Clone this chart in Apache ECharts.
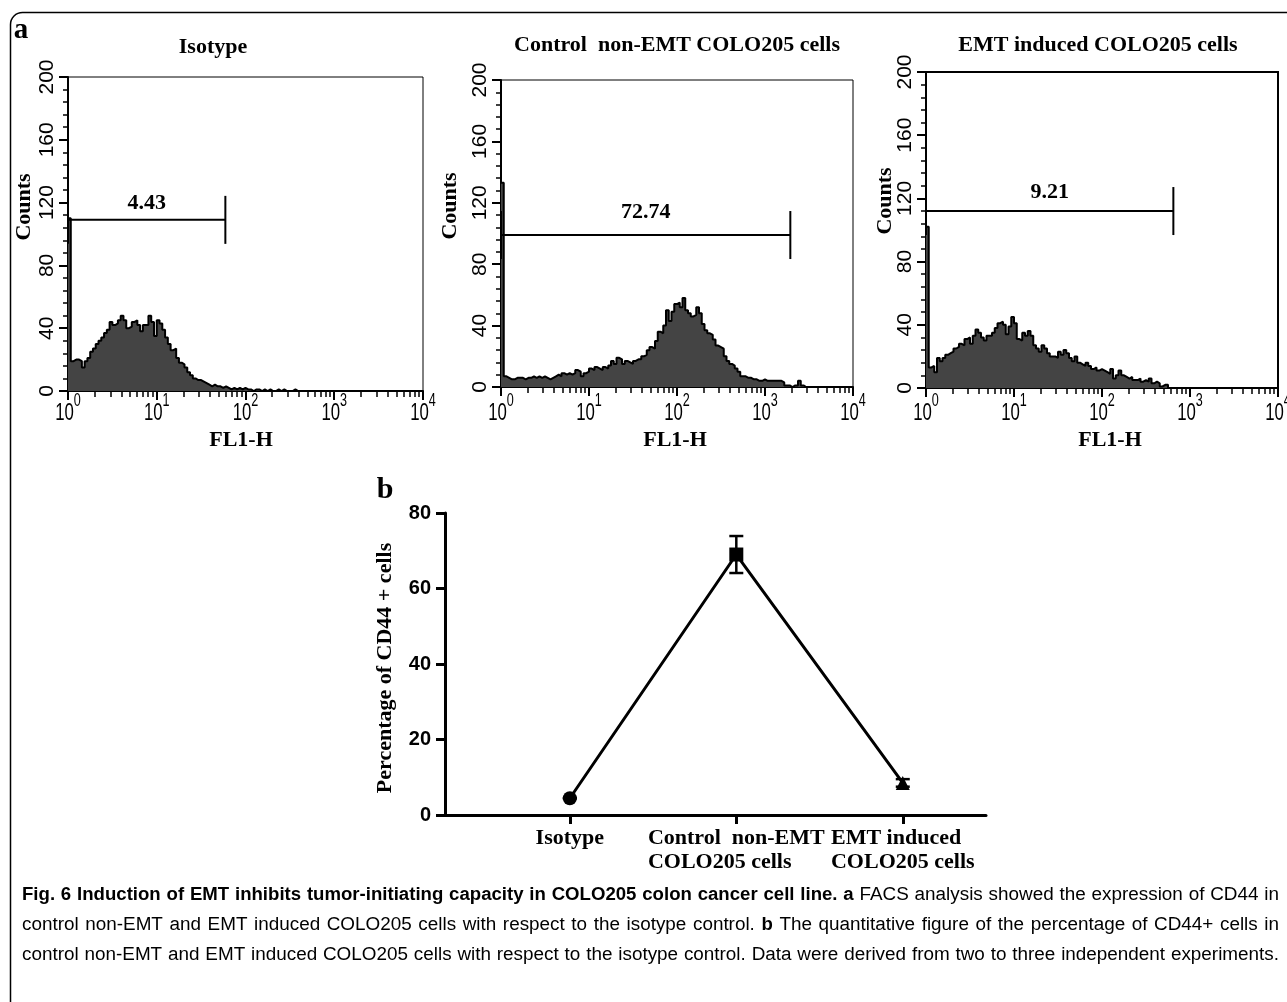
<!DOCTYPE html>
<html>
<head>
<meta charset="utf-8">
<script src="https://cdn.jsdelivr.net/npm/echarts@6/dist/echarts.min.js"></script>
<style>
  html, body { margin: 0; padding: 0; background: #fff; }
  #chart { width: 1287px; height: 1002px; }
</style>
</head>
<body>
<div id="chart"></div>
<script>
// ---- FACS histograms: counts per channel, 32 log channels per decade (10^0 .. 10^4) ----
const channelsPerDecade = 32;

const isotypeCounts = [
  110, 19, 20, 20, 19, 15, 19, 21, 25, 27, 30, 32, 34, 37, 39, 44,
  42, 43, 45, 48, 45, 40, 41, 44, 45, 42, 38, 42, 42, 48, 44, 35,
  45, 43, 39, 34, 30, 26, 27, 21, 18, 17, 15, 12, 10, 8, 7, 7,
  6, 5, 4, 3, 4, 3, 3, 2, 3, 2, 1, 2, 1, 2, 1, 2,
  1, 1, 0, 1, 1, 0, 1, 0, 1, 0, 0, 1, 0, 1, 0, 0,
  0, 1, 0, 0, 0, 0, 0, 0, 0, 0, 0, 0, 0, 0, 0, 0,
  0, 0, 0, 0, 0, 0, 0, 0, 0, 0, 0, 0, 0, 0, 0, 0,
  0, 0, 0, 0, 0, 0, 0, 0, 0, 0, 0, 0, 0, 0, 0, 0
];

const controlCounts = [
  133, 7, 6, 5, 5, 6, 6, 6, 5, 6, 6, 7, 6, 7, 6, 7,
  6, 5, 6, 7, 8, 7, 9, 8, 9, 8, 9, 11, 10, 7, 9, 10,
  12, 11, 13, 12, 11, 13, 12, 14, 17, 15, 19, 18, 15, 17, 16, 15,
  17, 18, 18, 20, 21, 24, 26, 25, 30, 36, 35, 40, 50, 43, 49, 54,
  55, 52, 58, 50, 48, 46, 47, 52, 48, 41, 37, 35, 34, 31, 27, 26,
  25, 20, 17, 15, 14, 12, 10, 7, 7, 6, 6, 5, 5, 4, 4, 5,
  4, 4, 4, 4, 4, 4, 3, 1, 1, 0, 1, 1, 4, 1, 0, 0,
  0, 0, 0, 0, 0, 0, 0, 0, 0, 0, 0, 0, 0, 0, 0, 0
];

const emtCounts = [
  102, 13, 14, 10, 19, 17, 19, 21, 22, 23, 25, 26, 28, 27, 31, 32,
  28, 33, 37, 35, 32, 30, 33, 33, 35, 38, 41, 42, 40, 34, 39, 45,
  41, 31, 30, 35, 33, 36, 33, 27, 25, 23, 27, 25, 22, 20, 20, 19,
  23, 21, 24, 22, 19, 17, 20, 16, 15, 14, 16, 14, 12, 13, 11, 12,
  11, 10, 9, 12, 6, 8, 11, 8, 7, 6, 7, 5, 5, 6, 4, 5,
  4, 6, 3, 4, 3, 1, 2, 2, 0, 0, 0, 0, 0, 0, 0, 0,
  0, 0, 0, 0, 0, 0, 0, 0, 0, 0, 0, 0, 0, 0, 0, 0,
  0, 0, 0, 0, 0, 0, 0, 0, 0, 0, 0, 0, 0, 0, 0, 0
];

// marker gates: [start FL1-H, end FL1-H, drawn at count]
const isotypeGate = [1, 59.3, 109];
const controlGate = [1, 1940, 99];
const emtGate = [1, 647, 112];
const gatePercents = ['4.43', '72.74', '9.21'];

const panelTitles = ['Isotype', 'Control  non-EMT COLO205 cells', 'EMT induced COLO205 cells'];
const countTicks = { min: 0, max: 200, step: 40 };
const fl1Range = { min: 1, max: 10000 };
const fl1Decades = [1, 10, 100, 1000, 10000];

// ---- summary panel ----
const groupNames = ['Isotype', 'Control  non-EMT\nCOLO205 cells', 'EMT induced\nCOLO205 cells'];
const groupSymbols = ['circle', 'rect', 'triangle'];
const cd44Mean = [4.43, 69, 8.5];
const cd44Err = [0, 4.9, 1];
const percentTicks = { min: 0, max: 80, step: 20 };

// ---- fonts ----
const SERIF = '"Liberation Serif", "Times New Roman", serif';
const SANS = '"Liberation Sans", Arial, sans-serif';

function histogramData(counts) {
  const pts = counts.map((c, i) => [Math.pow(10, i / channelsPerDecade), c]);
  pts.push([Math.pow(10, counts.length / channelsPerDecade), 0]);
  return pts;
}

// minor tick values of a log axis: 2..9 within each decade
const logMinorTicks = [];
for (let d = 1; d < 10000; d *= 10) for (let m = 2; m <= 9; m++) logMinorTicks.push(m * d);

const histGrids = [
  { left: 68, top: 77, width: 355, height: 314, border: 1, gateLift: 17 },
  { left: 501, top: 80, width: 352, height: 307, border: 1, gateLift: 23 },
  { left: 926, top: 72, width: 352, height: 316, border: 2, gateLift: 19 }
];
const histCounts = [isotypeCounts, controlCounts, emtCounts];
const histGates = [isotypeGate, controlGate, emtGate];

const grid = histGrids.map(g => ({
  left: g.left, top: g.top, width: g.width, height: g.height,
  show: true, borderColor: '#000', borderWidth: g.border, backgroundColor: 'transparent'
}));
grid.push({ left: 445, top: 513, width: 541, height: 302 });

const xAxis = [];
const yAxis = [];
const series = [];

histGrids.forEach((g, gi) => {
  xAxis.push({
    type: 'log', logBase: 10, gridIndex: gi, position: 'bottom',
    min: fl1Range.min, max: fl1Range.max,
    axisLine: { show: true, lineStyle: { color: '#000', width: 2 } },
    axisTick: { show: true, length: 9, customValues: fl1Decades, lineStyle: { color: '#000', width: 2 } },
    axisLabel: { show: false },
    splitLine: { show: false }
  });
  xAxis.push({
    type: 'log', logBase: 10, gridIndex: gi, position: 'bottom',
    min: fl1Range.min, max: fl1Range.max,
    axisLine: { show: false },
    axisLabel: { show: false },
    axisTick: { show: true, length: 6, customValues: logMinorTicks, lineStyle: { color: '#000', width: 1.5 } },
    splitLine: { show: false }
  });
  yAxis.push({
    type: 'value', gridIndex: gi,
    min: countTicks.min, max: countTicks.max, interval: countTicks.step,
    axisLine: { show: true, lineStyle: { color: '#000', width: 2 } },
    axisTick: { show: true, length: 9, lineStyle: { color: '#000', width: 2 } },
    minorTick: { show: true, splitNumber: 5, length: 5, lineStyle: { color: '#000', width: 1.5 } },
    axisLabel: { rotate: 90, margin: 10, color: '#000', fontSize: 21, fontFamily: SANS },
    splitLine: { show: false }
  });
  series.push({
    type: 'line', xAxisIndex: gi * 2, yAxisIndex: gi,
    data: histogramData(histCounts[gi]),
    step: 'end', symbol: 'none', silent: true,
    lineStyle: { color: '#000', width: 2 },
    areaStyle: { color: '#444', opacity: 1 }
  });
  const gateLabel = gatePercents[gi];
  const lift = g.gateLift;
  series.push({
    type: 'custom', xAxisIndex: gi * 2, yAxisIndex: gi, silent: true, z: 5,
    data: [histGates[gi]],
    encode: { x: [0, 1], y: 2 },
    renderItem: (params, api) => {
      const a = api.coord([api.value(0), api.value(2)]);
      const b = api.coord([api.value(1), api.value(2)]);
      const h = 24;
      const ls = { stroke: '#000', lineWidth: 2 };
      return {
        type: 'group',
        children: [
          { type: 'line', shape: { x1: a[0], y1: a[1], x2: b[0], y2: b[1] }, style: ls },
          { type: 'line', shape: { x1: a[0], y1: a[1] - h, x2: a[0], y2: a[1] + h }, style: ls },
          { type: 'line', shape: { x1: b[0], y1: b[1] - h, x2: b[0], y2: b[1] + h }, style: ls },
          {
            type: 'text', x: (a[0] + b[0]) / 2, y: a[1] - lift,
            style: {
              text: gateLabel, fill: '#000', font: 'bold 22px ' + SERIF,
              align: 'center', verticalAlign: 'middle', textAlign: 'center', textVerticalAlign: 'middle'
            }
          }
        ]
      };
    }
  });
});

// summary panel axes
xAxis.push({
  type: 'value', gridIndex: 3, position: 'bottom', min: 0.25, max: 3.5,
  axisLine: { show: true, lineStyle: { color: '#000', width: 3 } },
  axisTick: { show: true, length: 9, customValues: [1, 2, 3], lineStyle: { color: '#000', width: 3 } },
  axisLabel: {
    customValues: [1, 2, 3], margin: 11, color: '#000',
    formatter: v => (groupNames[Math.round(v) - 1] || '').split('\n').map(s => '{l|' + s + '}').join('\n'),
    rich: {
      l: { fontFamily: SERIF, fontWeight: 'bold', fontSize: 22, lineHeight: 24, align: 'left', color: '#000' }
    }
  },
  splitLine: { show: false }
});
yAxis.push({
  type: 'value', gridIndex: 3,
  min: percentTicks.min, max: percentTicks.max, interval: percentTicks.step,
  axisLine: { show: true, lineStyle: { color: '#000', width: 3 } },
  axisTick: { show: true, length: 9, lineStyle: { color: '#000', width: 3 } },
  axisLabel: { margin: 14, color: '#000', fontFamily: SANS, fontWeight: 'bold', fontSize: 20 },
  splitLine: { show: false }
});

series.push({
  type: 'line', xAxisIndex: 6, yAxisIndex: 3, silent: true, z: 4,
  data: cd44Mean.map((v, i) => ({ value: [i + 1, v], symbol: groupSymbols[i] })),
  symbolSize: 14,
  itemStyle: { color: '#000' },
  lineStyle: { color: '#000', width: 3 }
});
series.push({
  type: 'custom', xAxisIndex: 6, yAxisIndex: 3, silent: true, z: 3,
  data: cd44Mean.map((v, i) => [i + 1, v - cd44Err[i], v + cd44Err[i]]),
  encode: { x: 0, y: [1, 2] },
  renderItem: (params, api) => {
    const lo = api.coord([api.value(0), api.value(1)]);
    const hi = api.coord([api.value(0), api.value(2)]);
    const w = 7;
    const ls = { stroke: '#000', lineWidth: 2.5 };
    return {
      type: 'group',
      children: [
        { type: 'line', shape: { x1: lo[0], y1: lo[1], x2: hi[0], y2: hi[1] }, style: ls },
        { type: 'line', shape: { x1: hi[0] - w, y1: hi[1], x2: hi[0] + w, y2: hi[1] }, style: ls },
        { type: 'line', shape: { x1: lo[0] - w, y1: lo[1], x2: lo[0] + w, y2: lo[1] }, style: ls }
      ]
    };
  }
});

// ---- text graphics ----
function label(text, x, y, font, rotation) {
  return {
    type: 'text', x: x, y: y, rotation: rotation || 0, silent: true,
    style: {
      text: text, fill: '#000', font: font,
      align: 'center', verticalAlign: 'middle', textAlign: 'center', textVerticalAlign: 'middle'
    }
  };
}
const B22 = 'bold 22px ' + SERIF;
const graphics = [
  // panel frame
  { type: 'rect', silent: true, shape: { x: 10.5, y: 12.5, width: 1320, height: 1040, r: 12 },
    style: { fill: 'none', stroke: '#000', lineWidth: 1.5 } },
  label('a', 21, 31, 'bold 29px ' + SERIF),
  label('b', 385, 490, 'bold 30px ' + SERIF),
  label(panelTitles[0], 213, 47, B22),
  label(panelTitles[1], 677, 45, B22),
  label(panelTitles[2], 1098, 45, B22),
  label('Counts', 24, 207, B22, Math.PI / 2),
  label('Counts', 450, 206, B22, Math.PI / 2),
  label('Counts', 885, 201, B22, Math.PI / 2),
  label('FL1-H', 241, 440, B22),
  label('FL1-H', 675, 440, B22),
  label('FL1-H', 1110, 440, B22),
  label('Percentage of CD44 + cells', 385, 668, B22, Math.PI / 2)
];

const ctx = document.createElement('canvas').getContext('2d');
function measure(text, font) { ctx.font = font; return ctx.measureText(text).width; }

// ---- caption, justified line by line in a condensed sans ----
const captionLines = [
  [[true, 'Fig. 6 Induction of EMT inhibits tumor-initiating capacity in COLO205 colon cancer cell line.'],
   [true, 'a'], [false, 'FACS analysis showed the expression of CD44 in']],
  [[false, 'control non-EMT and EMT induced COLO205 cells with respect to the isotype control.'],
   [true, 'b'], [false, 'The quantitative figure of the percentage of CD44+ cells in']],
  [[false, 'control non-EMT and EMT induced COLO205 cells with respect to the isotype control. Data were derived from two to three independent experiments.']]
];
const capLeft = 22, capRight = 1279, capY = [895, 925, 955], capSize = 18;
const capAvail = capRight - capLeft;
function capFont(bold) { return (bold ? 'bold ' : '') + capSize + 'px ' + SANS; }
const capWords = captionLines.map(runs => {
  const words = [];
  runs.forEach(([bold, txt]) => txt.split(' ').forEach(w => words.push({ w, bold, nat: measure(w, capFont(bold)) })));
  return words;
});
const spaceW = measure(' ', capFont(false));
// regular text condensed so the last line sets with plain word spaces
const lastWords = capWords[2];
const regScale = 0.99 * capAvail / (lastWords.reduce((s, o) => s + o.nat, 0) + (lastWords.length - 1) * spaceW);
// bold heading condensed so the first line also sets with plain word spaces
const firstWords = capWords[0];
const firstReg = firstWords.filter(o => !o.bold).reduce((s, o) => s + o.nat, 0) * regScale;
const firstBold = firstWords.filter(o => o.bold).reduce((s, o) => s + o.nat, 0);
const boldScale = (0.99 * capAvail - firstReg - (firstWords.length - 1) * spaceW * regScale) / firstBold;
capWords.forEach((words, li) => {
  words.forEach(o => { o.s = o.bold ? boldScale : regScale; o.width = o.nat * o.s; });
  const used = words.reduce((acc, o) => acc + o.width, 0);
  const gap = (capAvail - used) / (words.length - 1);
  let x = capLeft;
  words.forEach(o => {
    graphics.push({
      type: 'text', x: x, y: capY[li], scaleX: o.s, silent: true,
      style: {
        text: o.w, fill: '#000', font: capFont(o.bold),
        align: 'left', verticalAlign: 'middle', textAlign: 'left', textVerticalAlign: 'middle'
      }
    });
    x += o.width + gap;
  });
});

const chart = echarts.init(document.getElementById('chart'), null, { renderer: 'canvas' });
chart.setOption({
  animation: false,
  backgroundColor: '#fff',
  grid: grid,
  xAxis: xAxis,
  yAxis: yAxis,
  series: series
});

// ---- decade labels 10^n in a narrow face, placed at the log axis ticks ----
const tickScale = 0.7;
const baseFont = '24px ' + SANS, supFont = '18px ' + SANS;
histGrids.forEach((g, gi) => {
  fl1Decades.forEach(v => {
    const px = chart.convertToPixel({ xAxisIndex: gi * 2 }, v);
    const exp = String(Math.round(Math.log10(v)));
    const wBase = measure('10', baseFont) * tickScale;
    const wSup = measure(exp, supFont) * tickScale;
    const left = px - (wBase + wSup) / 2;
    graphics.push({
      type: 'text', x: left, y: 413, scaleX: tickScale, silent: true,
      style: { text: '10', fill: '#000', font: baseFont, align: 'left', verticalAlign: 'middle', textAlign: 'left', textVerticalAlign: 'middle' }
    });
    graphics.push({
      type: 'text', x: left + wBase, y: 401, scaleX: tickScale, silent: true,
      style: { text: exp, fill: '#000', font: supFont, align: 'left', verticalAlign: 'middle', textAlign: 'left', textVerticalAlign: 'middle' }
    });
  });
});

chart.setOption({ graphic: { elements: graphics } });
</script>
</body>
</html>
